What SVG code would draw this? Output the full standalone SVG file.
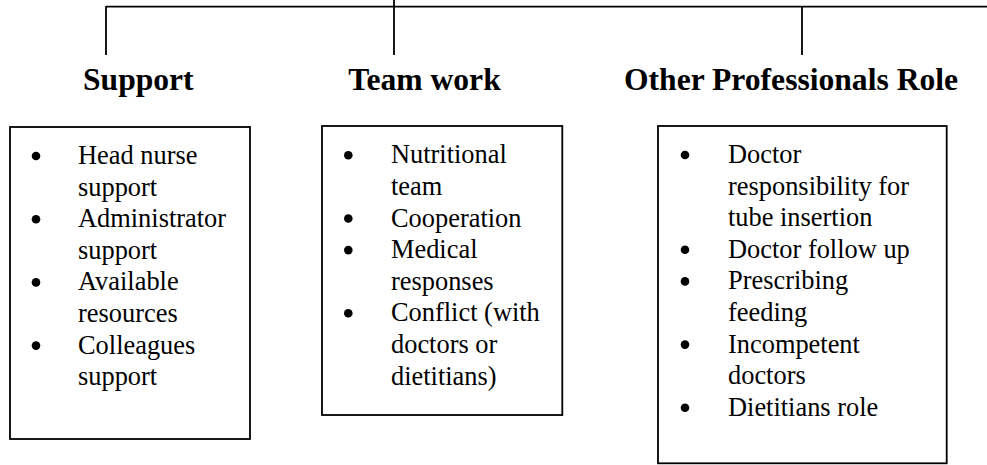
<svg xmlns="http://www.w3.org/2000/svg" width="987" height="465" viewBox="0 0 987 465">
<style>
.bg{fill:#ffffff}
.ln{stroke:#000;stroke-width:1.8;fill:none}
.box{stroke:#000;stroke-width:1.8;fill:#fff}
.hd{font-family:"Liberation Serif","Times New Roman",serif;font-weight:bold;font-size:31.6px;fill:#000}
.tx{font-family:"Liberation Serif","Times New Roman",serif;font-size:26.4px;fill:#000}
.bl{fill:#000}
</style>
<rect class="bg" x="0" y="0" width="987" height="465"/>
<g id="connectors">
<line class="ln" x1="106" y1="6.7" x2="987" y2="6.7"/>
<line class="ln" x1="106" y1="6" x2="106" y2="55"/>
<line class="ln" x1="394" y1="0" x2="394" y2="55"/>
<line class="ln" x1="802" y1="6.7" x2="802" y2="55"/>
</g>
<g id="support">
<text class="hd" x="83" y="89.5">Support</text>
<rect class="box" x="10" y="127" width="240" height="312"/>
<circle class="bl" cx="36" cy="156" r="4.3"/>
<circle class="bl" cx="36" cy="219.2" r="4.3"/>
<circle class="bl" cx="36" cy="282.4" r="4.3"/>
<circle class="bl" cx="36" cy="345.6" r="4.3"/>
<text class="tx" x="78" y="164">Head nurse</text>
<text class="tx" x="78" y="195.6">support</text>
<text class="tx" x="78" y="227.2">Administrator</text>
<text class="tx" x="78" y="258.8">support</text>
<text class="tx" x="78" y="290.4">Available</text>
<text class="tx" x="78" y="322">resources</text>
<text class="tx" x="78" y="353.6">Colleagues</text>
<text class="tx" x="78" y="385.2">support</text>
</g>
<g id="teamwork">
<text class="hd" x="348.3" y="89.5">Team work</text>
<rect class="box" x="322" y="126" width="240.3" height="289"/>
<circle class="bl" cx="348.3" cy="155.3" r="4.3"/>
<circle class="bl" cx="348.3" cy="218.5" r="4.3"/>
<circle class="bl" cx="348.3" cy="250.1" r="4.3"/>
<circle class="bl" cx="348.3" cy="313.3" r="4.3"/>
<text class="tx" x="391" y="163.3">Nutritional</text>
<text class="tx" x="391" y="194.9">team</text>
<text class="tx" x="391" y="226.5">Cooperation</text>
<text class="tx" x="391" y="258.1">Medical</text>
<text class="tx" x="391" y="289.7">responses</text>
<text class="tx" x="391" y="321.3">Conflict (with</text>
<text class="tx" x="391" y="352.9">doctors or</text>
<text class="tx" x="391" y="384.5">dietitians)</text>
</g>
<g id="otherprofessionals">
<text class="hd" x="624" y="89.5">Other Professionals Role</text>
<rect class="box" x="658" y="126" width="288.7" height="337.3"/>
<circle class="bl" cx="685" cy="155" r="4.3"/>
<circle class="bl" cx="685" cy="249.8" r="4.3"/>
<circle class="bl" cx="685" cy="281.4" r="4.3"/>
<circle class="bl" cx="685" cy="344.6" r="4.3"/>
<circle class="bl" cx="685" cy="407.8" r="4.3"/>
<text class="tx" x="728" y="163">Doctor</text>
<text class="tx" x="728" y="194.6">responsibility for</text>
<text class="tx" x="728" y="226.2">tube insertion</text>
<text class="tx" x="728" y="257.8">Doctor follow up</text>
<text class="tx" x="728" y="289.4">Prescribing</text>
<text class="tx" x="728" y="321">feeding</text>
<text class="tx" x="728" y="352.6">Incompetent</text>
<text class="tx" x="728" y="384.2">doctors</text>
<text class="tx" x="728" y="415.8">Dietitians role</text>
</g>
</svg>
